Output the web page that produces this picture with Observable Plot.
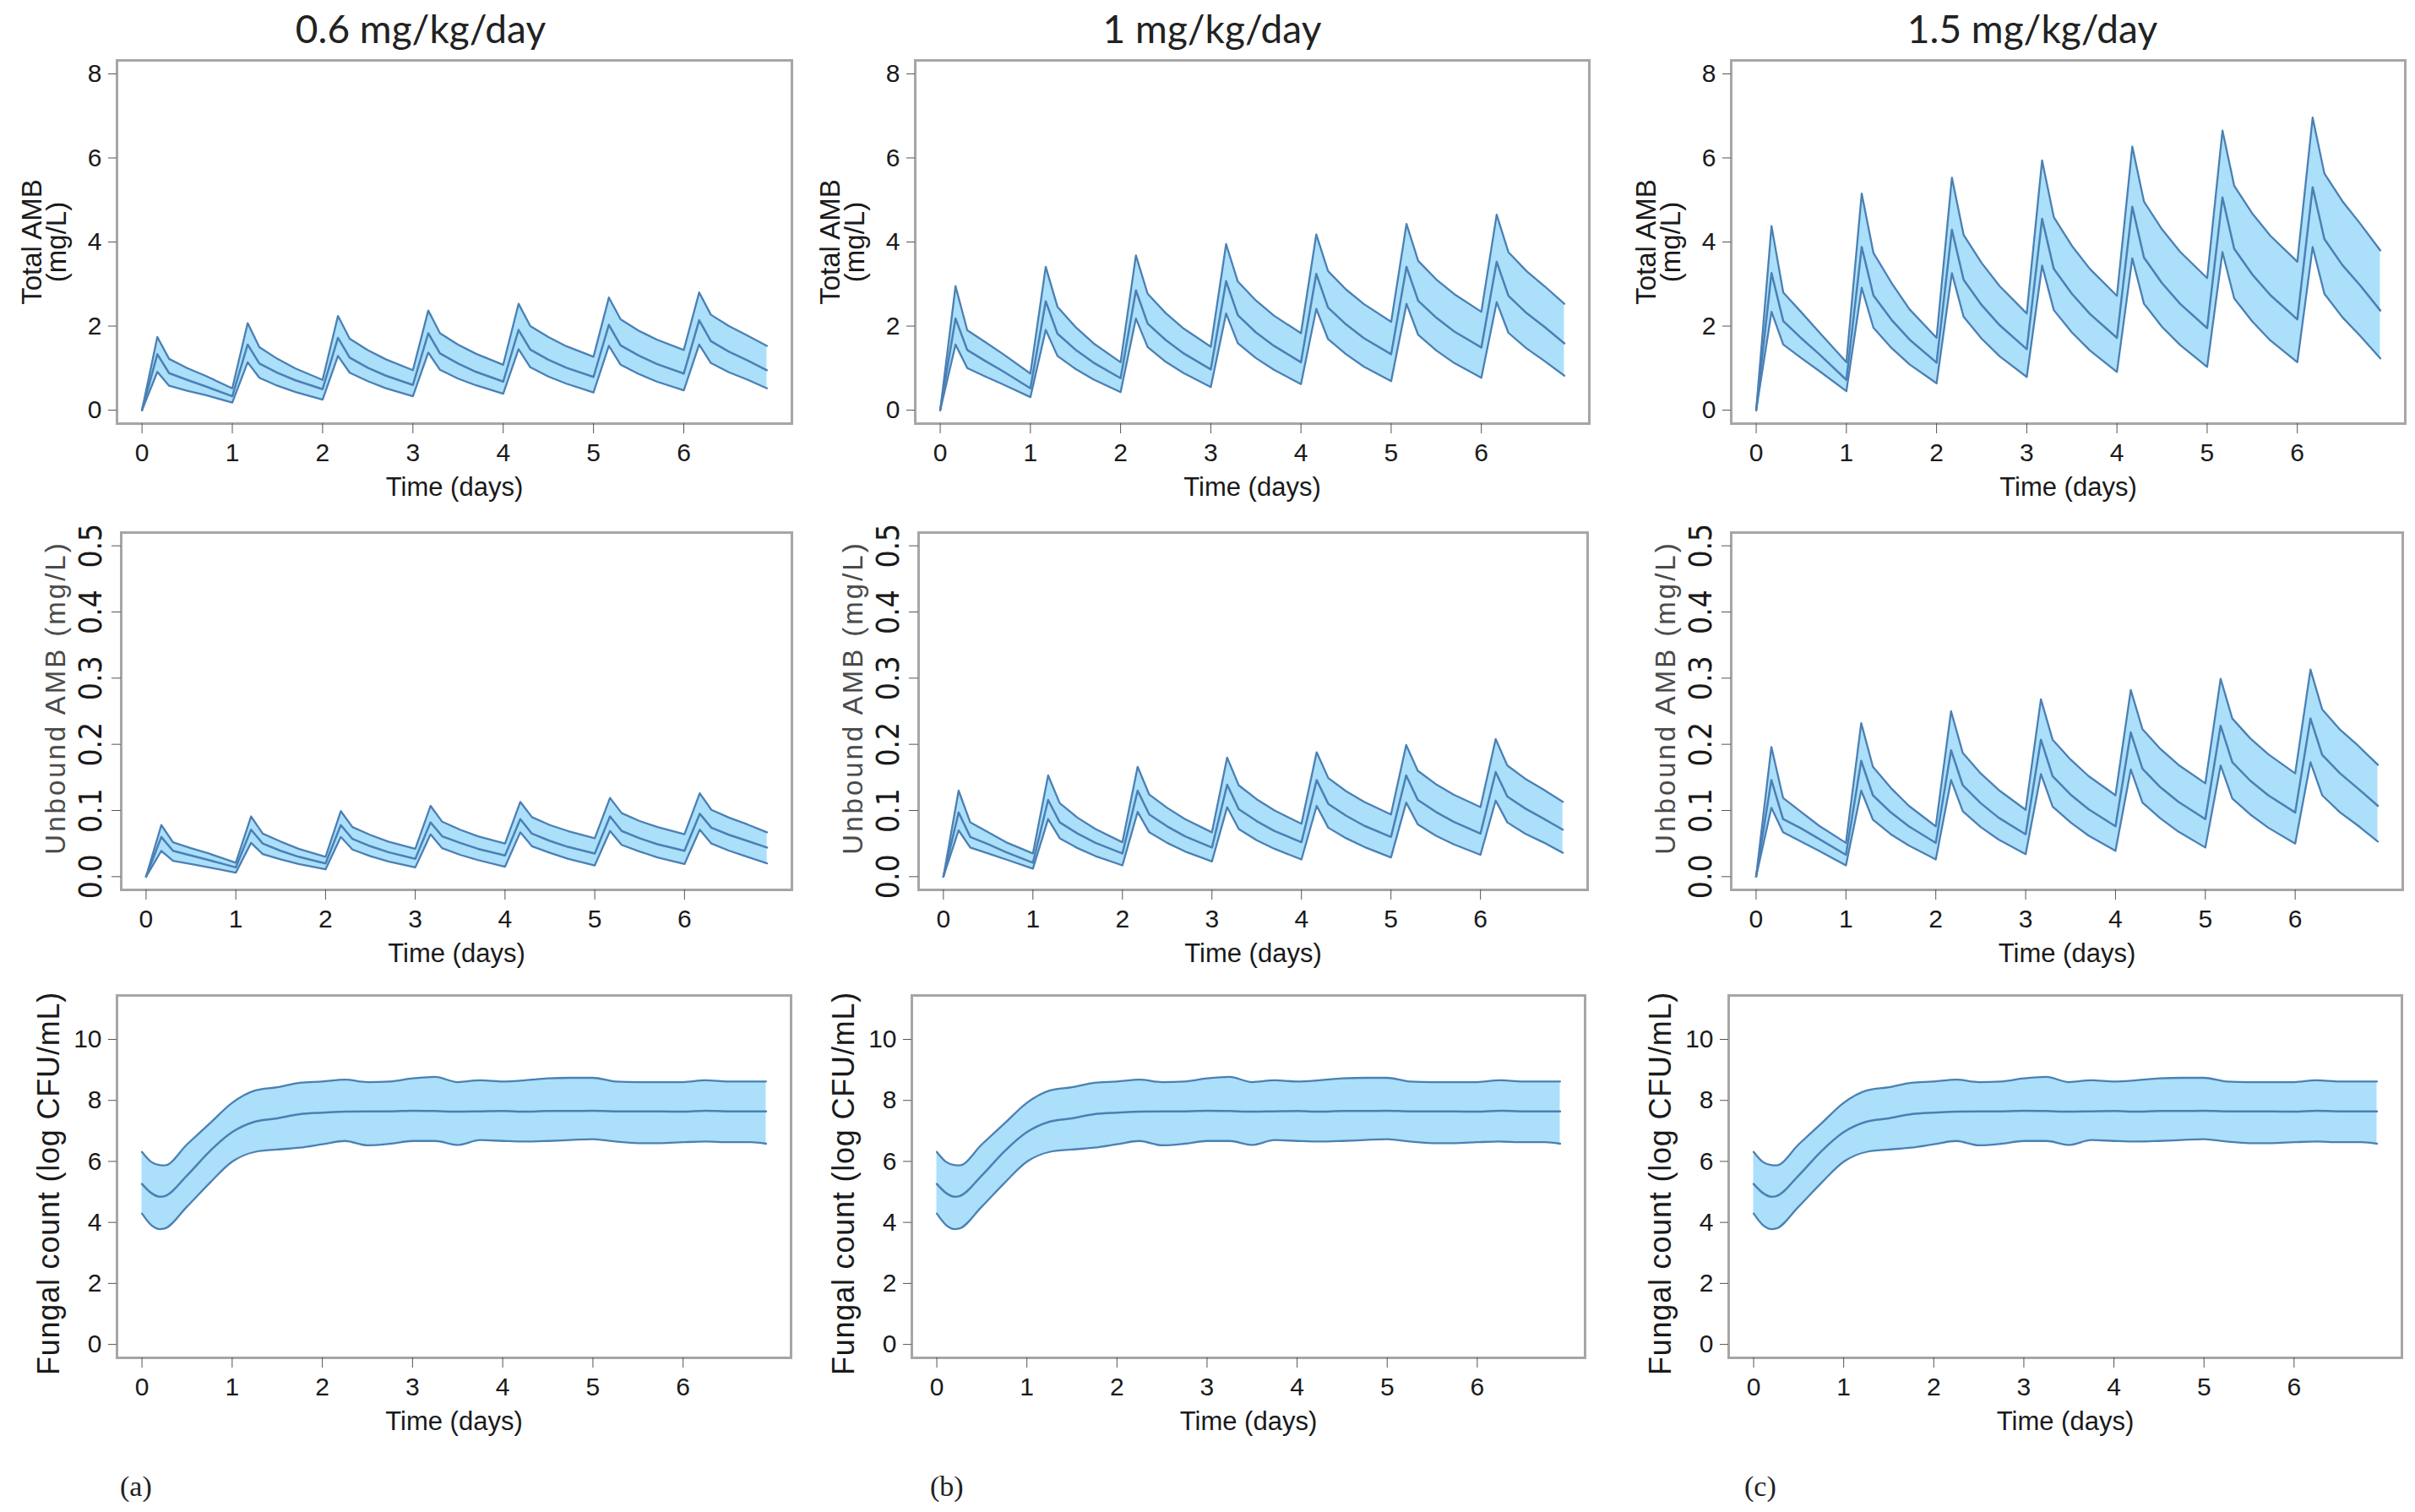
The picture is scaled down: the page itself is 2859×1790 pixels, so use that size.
<!DOCTYPE html>
<html><head><meta charset="utf-8">
<script src="https://cdn.jsdelivr.net/npm/d3@7"></script>
<script src="https://cdn.jsdelivr.net/npm/@observablehq/plot@0.6"></script>
<style>
body{margin:0;background:#fff;}
#fig{position:relative;width:2859px;height:1790px;background:#fff;overflow:hidden;}
.title{position:absolute;font-family:Lato,"Open Sans",sans-serif;font-size:46px;color:#222;transform:translate(-50%,-50%);white-space:nowrap;}
.tag{position:absolute;font-family:"Liberation Serif","Times New Roman",serif;font-size:34px;color:#222;transform:translateY(-50%);}
.panel{position:absolute;}
</style></head><body><div id="fig"></div>
<script>
// ---------- DATA ----------
const doseTitles = ["0.6 mg/kg/day", "1 mg/kg/day", "1.5 mg/kg/day"];
const panelTags = ["(a)", "(b)", "(c)"];
const xTicks = [0, 1, 2, 3, 4, 5, 6];
const totalTicks = [0, 2, 4, 6, 8];
const unboundTicks = [0, 0.1, 0.2, 0.3, 0.4, 0.5];
const fungalTicks = [0, 2, 4, 6, 8, 10];

const pkTimes = [0,0.17,0.3,0.5,0.7, 1,1.17,1.3,1.5,1.7, 2,2.17,2.3,2.5,2.7, 3,3.17,3.3,3.5,3.7, 4,4.17,4.3,4.5,4.7, 5,5.17,5.3,5.5,5.7, 6,6.17,6.3,6.5,6.7, 6.92];

// Total AMB (mg/L)
const total06Upper  = [0,1.74,1.22,1.00,0.82, 0.52,2.07,1.50,1.22,0.99, 0.72,2.24,1.70,1.43,1.21, 0.95,2.37,1.83,1.56,1.34, 1.08,2.53,2.00,1.74,1.52, 1.27,2.68,2.16,1.89,1.68, 1.43,2.80,2.27,2.00,1.78, 1.53];
const total06Median = [0,1.33,0.88,0.72,0.57, 0.33,1.56,1.11,0.89,0.71, 0.50,1.72,1.25,1.01,0.82, 0.60,1.83,1.35,1.11,0.91, 0.68,1.91,1.44,1.20,1.01, 0.79,2.03,1.54,1.30,1.10, 0.87,2.14,1.64,1.39,1.19, 0.95];
const total06Lower  = [0,0.91,0.58,0.46,0.36, 0.18,1.14,0.77,0.58,0.43, 0.25,1.29,0.89,0.69,0.52, 0.33,1.37,0.96,0.75,0.59, 0.39,1.45,1.02,0.80,0.63, 0.42,1.53,1.08,0.86,0.68, 0.47,1.56,1.12,0.90,0.73, 0.52];

const total1Upper  = [0,2.95,1.90,1.62,1.33, 0.87,3.41,2.46,1.98,1.59, 1.14,3.68,2.77,2.31,1.94, 1.51,3.95,3.06,2.61,2.25, 1.83,4.18,3.31,2.87,2.52, 2.10,4.43,3.55,3.11,2.76, 2.34,4.65,3.76,3.31,2.95, 2.53];
const total1Median = [0,2.18,1.43,1.17,0.92, 0.52,2.59,1.82,1.44,1.13, 0.76,2.85,2.06,1.67,1.35, 0.97,3.07,2.26,1.85,1.53, 1.14,3.24,2.44,2.04,1.71, 1.33,3.41,2.60,2.20,1.87, 1.49,3.53,2.72,2.31,1.98, 1.59];
const total1Lower  = [0,1.56,1.00,0.80,0.61, 0.31,1.91,1.29,0.98,0.73, 0.43,2.18,1.50,1.15,0.88, 0.55,2.30,1.59,1.24,0.96, 0.62,2.41,1.69,1.33,1.03, 0.69,2.53,1.79,1.42,1.12, 0.77,2.57,1.84,1.47,1.17, 0.82];

const total15Upper  = [0,4.38,2.80,2.33,1.85, 1.14,5.15,3.74,3.03,2.40, 1.72,5.53,4.17,3.50,2.95, 2.30,5.94,4.59,3.91,3.36, 2.72,6.27,4.96,4.30,3.77, 3.14,6.65,5.34,4.68,4.15, 3.53,6.96,5.63,4.97,4.43, 3.80];
const total15Median = [0,3.26,2.12,1.71,1.33, 0.72,3.88,2.73,2.15,1.68, 1.13,4.29,3.10,2.50,2.02, 1.45,4.55,3.36,2.77,2.29, 1.72,4.84,3.63,3.02,2.53, 1.95,5.06,3.84,3.23,2.74, 2.16,5.30,4.07,3.45,2.96, 2.37];
const total15Lower  = [0,2.34,1.56,1.24,0.93, 0.45,2.91,1.96,1.48,1.09, 0.64,3.26,2.22,1.70,1.28, 0.79,3.44,2.38,1.85,1.42, 0.91,3.61,2.53,1.98,1.55, 1.03,3.76,2.66,2.11,1.66, 1.14,3.88,2.77,2.21,1.76, 1.23];

// Unbound AMB (mg/L)
const unbound06Upper  = [0,.078,.052,.043,.035, .021,.091,.065,.053,.042, .030,.099,.075,.063,.053, .042,.107,.083,.071,.061, .050,.113,.090,.078,.069, .058,.119,.096,.084,.075, .064,.126,.101,.089,.079, .067];
const unbound06Median = [0,.060,.039,.032,.025, .014,.071,.050,.039,.030, .020,.078,.057,.046,.037, .027,.082,.061,.051,.042, .032,.087,.065,.054,.045, .035,.091,.069,.058,.049, .039,.095,.074,.063,.054, .044];
const unbound06Lower  = [0,.039,.024,.019,.014, .006,.051,.034,.026,.019, .011,.060,.041,.031,.023, .014,.064,.043,.033,.025, .015,.067,.046,.036,.027, .017,.069,.048,.038,.029, .019,.071,.050,.039,.030, .020];

const unbound1Upper  = [0,.130,.082,.067,.052, .035,.153,.111,.089,.072, .052,.166,.124,.104,.087, .067,.180,.138,.117,.100, .080,.188,.149,.129,.113, .094,.199,.160,.140,.124, .105,.208,.168,.148,.132, .113];
const unbound1Median = [0,.097,.060,.049,.037, .021,.116,.082,.065,.051, .035,.130,.094,.076,.061, .044,.139,.102,.084,.069, .052,.146,.110,.092,.077, .060,.153,.116,.098,.083, .065,.158,.121,.103,.088, .071];
const unbound1Lower  = [0,.070,.044,.035,.026, .012,.087,.058,.043,.031, .017,.098,.067,.051,.038, .023,.105,.072,.055,.042, .026,.107,.074,.058,.045, .029,.112,.079,.062,.049, .033,.115,.082,.065,.052, .036];

const unbound15Upper  = [0,.196,.119,.098,.077, .051,.232,.166,.134,.107, .076,.250,.187,.156,.131, .101,.268,.207,.177,.152, .123,.282,.223,.193,.169, .141,.299,.239,.209,.185, .156,.313,.253,.222,.198, .169];
const unbound15Median = [0,.146,.087,.073,.057, .033,.175,.123,.097,.076, .051,.191,.138,.111,.089, .064,.207,.152,.124,.102, .076,.218,.163,.135,.113, .087,.228,.173,.145,.123, .097,.239,.184,.156,.133, .107];
const unbound15Lower  = [0,.104,.067,.053,.039, .017,.130,.086,.064,.047, .026,.146,.099,.075,.056, .034,.155,.106,.082,.062, .039,.162,.112,.088,.068, .044,.168,.118,.094,.074, .050,.173,.123,.097,.077, .053];

// Fungal count (log CFU/mL) – practically identical in the three dose panels
const fungalTimes  = [0,0.1,0.2,0.25,0.5,0.75,1,1.25,1.5,1.75,2,2.25,2.5,2.75,3,3.25,3.5,3.75,4,4.25,4.5,4.75,5,5.25,5.5,5.75,6,6.25,6.5,6.75,6.92];
const fungalUpper  = [6.31,5.99,5.88,5.87,6.56,7.24,7.92,8.32,8.43,8.58,8.62,8.68,8.60,8.62,8.72,8.77,8.60,8.66,8.62,8.66,8.72,8.74,8.74,8.62,8.60,8.60,8.60,8.66,8.62,8.62,8.62];
const fungalMedian = [5.26,4.97,4.84,4.86,5.54,6.33,6.96,7.30,7.41,7.55,7.60,7.63,7.64,7.64,7.66,7.65,7.63,7.64,7.65,7.63,7.65,7.65,7.66,7.64,7.64,7.64,7.63,7.66,7.64,7.64,7.64];
const fungalLower  = [4.29,3.92,3.78,3.80,4.52,5.29,5.99,6.31,6.39,6.45,6.56,6.67,6.53,6.58,6.67,6.67,6.54,6.70,6.67,6.65,6.67,6.70,6.73,6.65,6.60,6.60,6.63,6.65,6.63,6.63,6.58];

// ---------- BUILD ----------
const toRows = (t, hi, med, lo) => t.map((v, i) => ({t: v, hi: hi[i], med: med[i], lo: lo[i]}));

const totalSets = [
  toRows(pkTimes, total06Upper, total06Median, total06Lower),
  toRows(pkTimes, total1Upper, total1Median, total1Lower),
  toRows(pkTimes, total15Upper, total15Median, total15Lower)
];
const unboundSets = [
  toRows(pkTimes, unbound06Upper, unbound06Median, unbound06Lower),
  toRows(pkTimes, unbound1Upper, unbound1Median, unbound1Lower),
  toRows(pkTimes, unbound15Upper, unbound15Median, unbound15Lower)
];
const fungalRows = toRows(fungalTimes, fungalUpper, fungalMedian, fungalLower);

const fig = document.getElementById("fig");
const SANS = "'Liberation Sans', Arial, Helvetica, sans-serif";
const NARROW = "'Liberation Sans Narrow', 'DejaVu Sans Condensed', 'Liberation Sans', sans-serif";
const FILL = "#abdffa";
const LINE = "#4a80b4";
const ML = 140, MR = 12, MT = 12, MB = 110;

// frame geometry [row][col] = [left, right]
const frameX = [
  [[138, 937], [1083, 1881], [2049, 2847]],
  [[143, 937], [1087, 1879], [2049, 2844]],
  [[138, 936], [1079, 1876], [2046, 2843]]
];
const frameY = [[71, 501], [630, 1053], [1178, 1607]];

function panel(row, col, rows, cfg) {
  const [x0, x1] = frameX[row][col];
  const [y0, y1] = frameY[row];
  const fw = x1 - x0, fh = y1 - y0;
  const curve = cfg.curve || "linear";
  const marks = [
    Plot.areaY(rows, {x: "t", y1: "lo", y2: "hi", fill: FILL, curve}),
    Plot.line(rows, {x: "t", y: "hi", stroke: LINE, strokeWidth: 2.3, curve}),
    Plot.line(rows, {x: "t", y: "lo", stroke: LINE, strokeWidth: 2.3, curve}),
    Plot.line(rows, {x: "t", y: "med", stroke: LINE, strokeWidth: 2.5, curve}),
    Plot.frame({stroke: "#a6a6a6", strokeWidth: 3}),
    Plot.axisX({ticks: xTicks, tickSize: 12, tickPadding: 11, stroke: "#555", fill: "#1a1a1a", fontSize: 30, label: null, tickFormat: d => String(d)}),
    Plot.text(["Time (days)"], {frameAnchor: "bottom", dy: 76, fontSize: 31, fill: "#1a1a1a", lineAnchor: "middle", fontFamily: SANS})
  ];
  if (cfg.rotatedTicks) {
    marks.push(Plot.axisY({ticks: cfg.ticks, tickSize: 11, stroke: "#555", tickFormat: () => "", label: null}));
    marks.push(Plot.text(cfg.ticks, {frameAnchor: "left", y: d => d, text: d => d.toFixed(1), rotate: -90, dx: -35, fontSize: 37, fill: "#1a1a1a", lineAnchor: "middle", textAnchor: "middle", fontFamily: NARROW}));
  } else {
    marks.push(Plot.axisY({ticks: cfg.ticks, tickSize: 10, tickPadding: 8, stroke: "#555", fill: "#1a1a1a", fontSize: 30, label: null, tickFormat: d => String(d)}));
  }
  marks.push(Plot.text([cfg.ylabel], {frameAnchor: "left", dx: cfg.ldx, dy: cfg.ldy, rotate: -90, fontSize: cfg.lsize, lineHeight: cfg.lh || 1, fill: cfg.lcolor || "#1a1a1a", lineAnchor: "middle", textAnchor: "middle", fontFamily: SANS}));

  const svg = Plot.plot({
    width: fw + ML + MR, height: fh + MT + MB,
    marginLeft: ML, marginRight: MR, marginTop: MT, marginBottom: MB,
    x: {domain: [-0.277, 7.197]},
    y: {domain: cfg.domain},
    style: {fontFamily: SANS, fontSize: "30px", background: "transparent", overflow: "visible", color: "#1a1a1a"},
    marks
  });
  svg.classList.add("panel");
  svg.style.left = (x0 - ML) + "px";
  svg.style.top = (y0 - MT) + "px";
  if (cfg.ls) svg.querySelectorAll("text").forEach(t => { if (t.textContent === cfg.ylabel) t.style.letterSpacing = cfg.ls + "px"; });
  fig.appendChild(svg);
}

for (let c = 0; c < 3; c++) {
  panel(0, c, totalSets[c], {domain: [-0.32, 8.32], ticks: totalTicks, ylabel: "Total AMB\n(mg/L)", ldx: -84, ldy: 0, lsize: 33, lh: 0.85});
  panel(1, c, unboundSets[c], {domain: [-0.02, 0.52], ticks: unboundTicks, rotatedTicks: true, ylabel: "Unbound AMB (mg/L)", ldx: -77, ldy: -16, lsize: 33, lcolor: "#4a4a4a", ls: 3});
  panel(2, c, fungalRows, {domain: [-0.44, 11.44], ticks: fungalTicks, ylabel: "Fungal count (log CFU/mL)", ldx: -80, ldy: 8, lsize: 36, ls: 0.8, curve: "monotone-x"});
}

const titleX = [498, 1435, 2406];
doseTitles.forEach((t, i) => {
  const d = document.createElement("div");
  d.className = "title"; d.textContent = t;
  d.style.left = titleX[i] + "px"; d.style.top = "33px";
  fig.appendChild(d);
});
const tagX = [142, 1101, 2065];
panelTags.forEach((t, i) => {
  const d = document.createElement("div");
  d.className = "tag"; d.textContent = t;
  d.style.left = tagX[i] + "px"; d.style.top = "1760px";
  fig.appendChild(d);
});
</script></body></html>
